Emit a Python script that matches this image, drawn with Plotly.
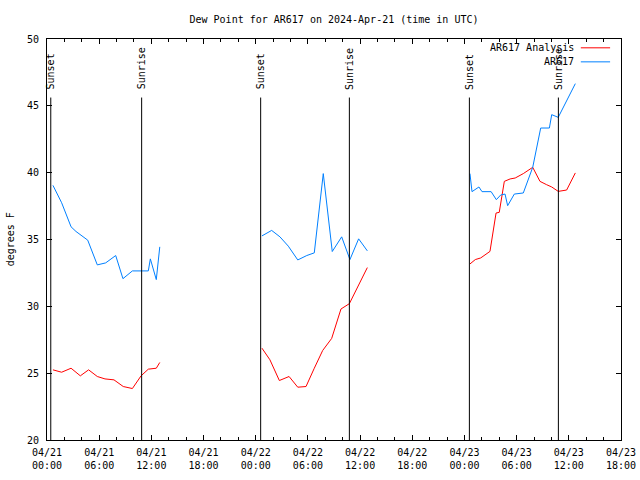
import plotly.graph_objects as go

# ---- data ----
blue_times = [
    "2024-04-21 00:41", "2024-04-21 01:41", "2024-04-21 02:46", "2024-04-21 03:20",
    "2024-04-21 04:41", "2024-04-21 05:47", "2024-04-21 06:45", "2024-04-21 07:54",
    "2024-04-21 08:44", "2024-04-21 09:49", "2024-04-21 11:39", "2024-04-21 11:53",
    "2024-04-21 12:34", "2024-04-21 12:58", None,
    "2024-04-22 00:43", "2024-04-22 01:50", "2024-04-22 02:47", "2024-04-22 03:45",
    "2024-04-22 04:50", "2024-04-22 05:52", "2024-04-22 06:44", "2024-04-22 07:46",
    "2024-04-22 08:48", "2024-04-22 09:53", "2024-04-22 10:50", "2024-04-22 11:50",
    "2024-04-22 12:50", None,
    "2024-04-23 00:38", "2024-04-23 00:52", "2024-04-23 01:40", "2024-04-23 02:01",
    "2024-04-23 03:04", "2024-04-23 03:40", "2024-04-23 04:10", "2024-04-23 04:40",
    "2024-04-23 04:58", "2024-04-23 05:44", "2024-04-23 06:46", "2024-04-23 07:10",
    "2024-04-23 07:51", "2024-04-23 08:46", "2024-04-23 09:46", "2024-04-23 10:02",
    "2024-04-23 10:47", "2024-04-23 12:45",
]
blue_values = [
    39.05, 37.75, 35.95, 35.6, 34.95, 33.1, 33.25, 33.8, 32.07, 32.65, 32.65, 33.55,
    32.0, 34.45, None,
    35.27, 35.68, 35.2, 34.5, 33.47, 33.8, 34.0, 39.93, 34.1, 35.2, 33.5, 35.05, 34.15,
    None,
    39.93, 38.58, 38.93, 38.58, 38.58, 37.98, 38.33, 38.4, 37.53, 38.4, 38.48, 39.23,
    40.4, 43.34, 43.34, 44.34, 44.14, 46.66,
]

red_times = [
    "2024-04-21 00:41", "2024-04-21 01:41", "2024-04-21 02:46", "2024-04-21 03:50",
    "2024-04-21 04:47", "2024-04-21 05:47", "2024-04-21 06:40", "2024-04-21 07:42",
    "2024-04-21 08:46", "2024-04-21 09:49", "2024-04-21 10:49", "2024-04-21 11:39",
    "2024-04-21 12:34", "2024-04-21 12:58", None,
    "2024-04-22 00:43", "2024-04-22 01:38", "2024-04-22 02:43", "2024-04-22 03:50",
    "2024-04-22 04:50", "2024-04-22 05:47", "2024-04-22 06:44", "2024-04-22 07:42",
    "2024-04-22 08:44", "2024-04-22 09:48", "2024-04-22 10:46", "2024-04-22 12:50",
    None,
    "2024-04-23 00:38", "2024-04-23 01:15", "2024-04-23 01:52", "2024-04-23 02:56",
    "2024-04-23 03:38", "2024-04-23 04:00", "2024-04-23 04:35", "2024-04-23 05:15",
    "2024-04-23 05:50", "2024-04-23 06:46", "2024-04-23 07:51", "2024-04-23 08:41",
    "2024-04-23 09:27", "2024-04-23 10:02", "2024-04-23 10:47", "2024-04-23 11:45",
    "2024-04-23 12:45",
]
red_values = [
    25.25, 25.07, 25.37, 24.8, 25.25, 24.75, 24.57, 24.5, 24.0, 23.85, 24.8, 25.3,
    25.37, 25.8, None,
    26.87, 26.0, 24.45, 24.75, 23.95, 24.0, 25.37, 26.7, 27.6, 29.8, 30.2, 32.9,
    None,
    33.17, 33.5, 33.62, 34.11, 36.98, 37.03, 39.35, 39.53, 39.6, 39.93, 40.4, 39.35,
    39.1, 38.93, 38.6, 38.7, 39.98,
]

sun_labels = ["Sunset", "Sunrise", "Sunset", "Sunrise", "Sunset", "Sunrise"]
sun_times = [
    "2024-04-21 00:26", "2024-04-21 10:53",
    "2024-04-22 00:34", "2024-04-22 10:46",
    "2024-04-23 00:34", "2024-04-23 10:48",
]

tick_vals = [
    "2024-04-21 00:00", "2024-04-21 06:00", "2024-04-21 12:00", "2024-04-21 18:00",
    "2024-04-22 00:00", "2024-04-22 06:00", "2024-04-22 12:00", "2024-04-22 18:00",
    "2024-04-23 00:00", "2024-04-23 06:00", "2024-04-23 12:00", "2024-04-23 18:00",
]
tick_text = [
    "04/21<br>00:00", "04/21<br>06:00", "04/21<br>12:00", "04/21<br>18:00",
    "04/22<br>00:00", "04/22<br>06:00", "04/22<br>12:00", "04/22<br>18:00",
    "04/23<br>00:00", "04/23<br>06:00", "04/23<br>12:00", "04/23<br>18:00",
]

series_names = ["AR617 Analysis", "AR617"]
series_colors = ["#ff0000", "#0080ff"]

FONT = "DejaVu Sans Mono"

fig = go.Figure()
fig.add_trace(go.Scatter(x=red_times, y=red_values, mode="lines", name=series_names[0],
                         line=dict(color=series_colors[0], width=1), showlegend=False))
fig.add_trace(go.Scatter(x=blue_times, y=blue_values, mode="lines", name=series_names[1],
                         line=dict(color=series_colors[1], width=1), showlegend=False))

shapes = []
annotations = []
for lab, t in zip(sun_labels, sun_times):
    shapes.append(dict(type="line", xref="x", yref="paper", x0=t, x1=t, y0=0, y1=0.854,
                       line=dict(color="black", width=1)))
    annotations.append(dict(x=t, xref="x", y=0.8686, yref="paper", text=lab,
                            textangle=-90, showarrow=False, xanchor="center",
                            yanchor="bottom", font=dict(family=FONT, size=10, color="black")))

# manual legend (gnuplot-style, sample to the right)
legend_y = [0.978, 0.943]
for name, col, ly in zip(series_names, series_colors, legend_y):
    annotations.append(dict(x=0.921, xref="paper", y=ly, yref="paper", text=name,
                            showarrow=False, xanchor="right", yanchor="middle",
                            font=dict(family=FONT, size=10, color="black")))
    shapes.append(dict(type="line", xref="paper", yref="paper", x0=0.930, x1=0.981,
                       y0=ly, y1=ly, line=dict(color=col, width=1)))

annotations.append(dict(x=-0.063, xref="paper", y=0.5, yref="paper", text="degrees F",
                        textangle=-90, showarrow=False, xanchor="center", yanchor="middle",
                        font=dict(family=FONT, size=10, color="black")))

fig.update_layout(
    width=640, height=480,
    margin=dict(l=47, r=19, t=39, b=40, pad=0),
    paper_bgcolor="white", plot_bgcolor="white",
    font=dict(family=FONT, size=10, color="black"),
    title=dict(text="Dew Point for AR617 on 2024-Apr-21 (time in UTC)",
               x=0.5, xref="paper", y=0.96, yref="container", yanchor="middle",
               font=dict(family=FONT, size=10, color="black")),
    shapes=shapes, annotations=annotations,
    showlegend=False,
)
fig.update_xaxes(
    type="date", range=["2024-04-21 00:00", "2024-04-23 18:00"], automargin=False,
    tickmode="array", tickvals=tick_vals, ticktext=tick_text, ticklabelstandoff=3,
    ticks="inside", ticklen=5, tickcolor="black", tickwidth=1,
    minor=dict(ticks="inside", ticklen=3, dtick=2 * 3600 * 1000, tick0="2024-04-21",
               tickcolor="black", showgrid=False),
    showline=True, linecolor="black", linewidth=1, mirror="ticks",
    showgrid=False, zeroline=False, tickfont=dict(family=FONT, size=10),
)
fig.update_yaxes(
    range=[20, 50], dtick=5, tick0=20, automargin=False, ticklabelstandoff=5,
    ticks="inside", ticklen=5, tickcolor="black", tickwidth=1,
    showline=True, linecolor="black", linewidth=1, mirror="ticks",
    showgrid=False, zeroline=False, tickfont=dict(family=FONT, size=10),
)

fig.write_html("out.html", config={"displayModeBar": False},
               post_script="document.body.style.margin='0';document.body.style.padding='0';")
